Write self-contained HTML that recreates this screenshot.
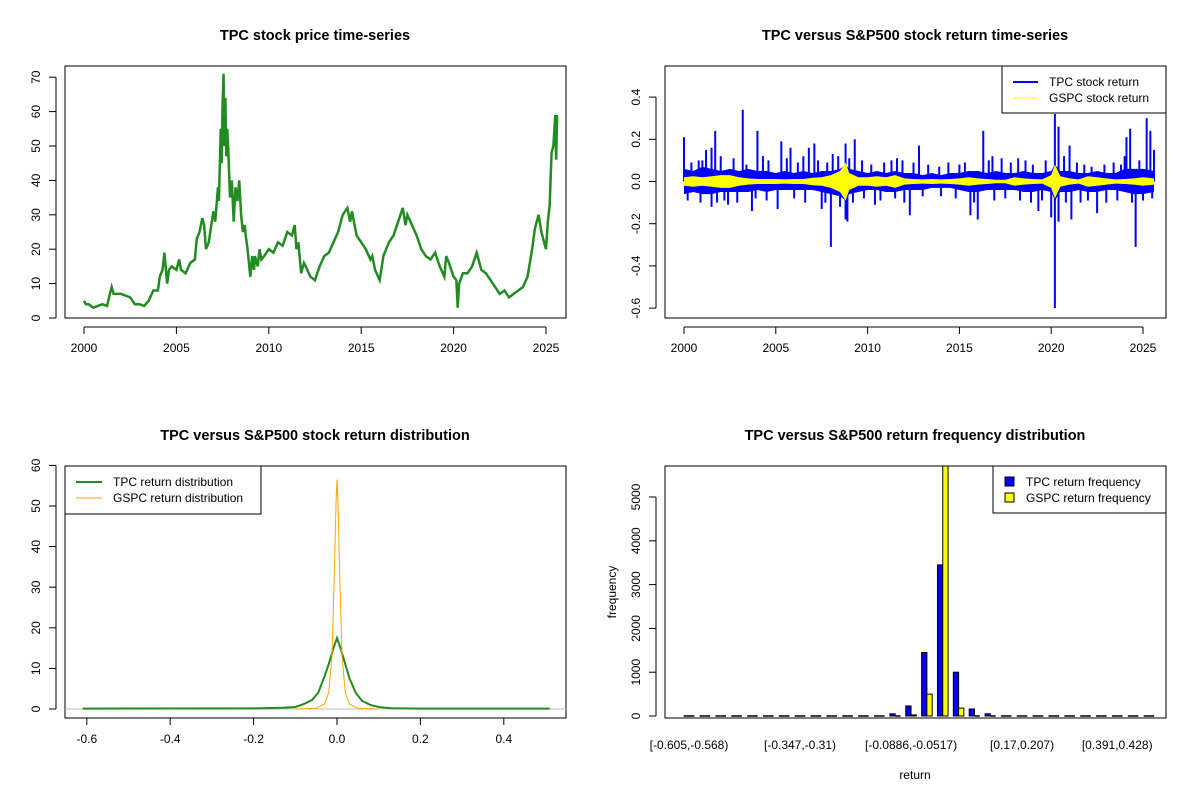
<!DOCTYPE html>
<html><head><meta charset="utf-8"><style>
html,body{margin:0;padding:0;background:#fff}
svg{display:block;font-family:"Liberation Sans",Arial,sans-serif}
.t{font-size:14.5px;font-weight:bold;text-anchor:middle}
.k{font-size:12px;fill:#000}
</style></head><body>
<svg id="c" width="1200" height="800" viewBox="0 0 1200 800"></svg>
<script>
// ---- Panel 1: price ----
const priceYears=[2000,2000.1,2000.25,2000.5,2000.75,2001,2001.25,2001.4,2001.5,2001.6,2001.75,2002,2002.25,2002.5,2002.75,2003,2003.25,2003.5,2003.75,2004,2004.1,2004.25,2004.35,2004.5,2004.6,2004.75,2005,2005.15,2005.25,2005.5,2005.75,2006,2006.1,2006.25,2006.4,2006.5,2006.6,2006.75,2007,2007.1,2007.25,2007.3,2007.4,2007.45,2007.5,2007.55,2007.6,2007.65,2007.7,2007.75,2007.8,2007.9,2008,2008.1,2008.2,2008.3,2008.4,2008.5,2008.6,2008.7,2008.75,2008.85,2009,2009.1,2009.2,2009.25,2009.4,2009.5,2009.6,2009.75,2010,2010.25,2010.5,2010.75,2011,2011.25,2011.4,2011.5,2011.6,2011.75,2011.9,2012,2012.25,2012.5,2012.75,2013,2013.25,2013.5,2013.75,2014,2014.25,2014.4,2014.5,2014.75,2015,2015.25,2015.5,2015.6,2015.75,2016,2016.2,2016.5,2016.75,2017,2017.25,2017.4,2017.5,2017.75,2018,2018.25,2018.5,2018.75,2019,2019.25,2019.5,2019.6,2019.75,2020,2020.15,2020.22,2020.3,2020.5,2020.75,2021,2021.25,2021.5,2021.75,2022,2022.25,2022.5,2022.75,2023,2023.25,2023.5,2023.75,2024,2024.25,2024.4,2024.5,2024.6,2024.75,2025,2025.1,2025.2,2025.3,2025.4,2025.5,2025.55,2025.6];
const priceVals=[5,4,4,3,3.5,4,3.5,7,9,7,7,7,6.5,6,4,4,3.5,5,8,8,12,14,19,10,14,15,14,17,14,13,16,17,23,25,29,27,20,22,31,28,38,34,55,45,62,71,50,64,47,55,50,35,40,28,38,34,40,30,25,27,24,20,12,18,14,18,15,20,17,18,20,19,22,21,25,24,27,20,22,13,16,15,12,11,15,18,19,22,25,30,32,28,31,24,22,20,17,18,14,11,18,22,24,28,32,27,30,27,24,20,18,17,19,15,12,18,16,12,11,3,10,13,13,15,19,14,13,11,9,7,8,6,7,8,9,12,20,26,28,30,25,20,28,33,48,50,59,46,59];
// ---- Panel 2: returns ----
const bandYears=[2000,2000.5,2001,2001.5,2002,2002.5,2003,2003.5,2004,2004.5,2005,2005.5,2006,2006.5,2007,2007.5,2008,2008.5,2008.8,2009,2009.5,2010,2010.5,2011,2011.5,2012,2012.5,2013,2013.5,2014,2014.5,2015,2015.5,2016,2016.5,2017,2017.5,2018,2018.5,2019,2019.5,2020,2020.2,2020.5,2021,2021.5,2022,2022.5,2023,2023.5,2024,2024.5,2025,2025.6];
const tpcUpper=[0.06,0.05,0.07,0.06,0.05,0.06,0.05,0.06,0.05,0.05,0.04,0.05,0.04,0.05,0.04,0.05,0.05,0.06,0.08,0.06,0.05,0.04,0.05,0.04,0.05,0.04,0.04,0.03,0.04,0.03,0.04,0.04,0.05,0.05,0.04,0.05,0.04,0.04,0.05,0.04,0.04,0.05,0.08,0.05,0.05,0.04,0.04,0.05,0.04,0.04,0.06,0.06,0.06,0.05];
const tpcLower=[-0.06,-0.05,-0.06,-0.06,-0.05,-0.05,-0.05,-0.05,-0.04,-0.05,-0.04,-0.04,-0.04,-0.04,-0.04,-0.05,-0.06,-0.07,-0.09,-0.06,-0.05,-0.04,-0.04,-0.05,-0.05,-0.04,-0.04,-0.04,-0.03,-0.03,-0.03,-0.04,-0.05,-0.05,-0.04,-0.04,-0.04,-0.04,-0.05,-0.05,-0.04,-0.05,-0.09,-0.05,-0.05,-0.04,-0.05,-0.05,-0.04,-0.04,-0.05,-0.06,-0.06,-0.05];
const gspcBand=[0.02,0.025,0.02,0.025,0.03,0.03,0.02,0.015,0.012,0.012,0.012,0.01,0.012,0.012,0.018,0.02,0.03,0.05,0.09,0.04,0.02,0.02,0.025,0.02,0.03,0.015,0.012,0.01,0.012,0.01,0.012,0.015,0.02,0.015,0.012,0.008,0.008,0.02,0.015,0.012,0.01,0.03,0.08,0.025,0.015,0.01,0.025,0.02,0.015,0.01,0.012,0.015,0.02,0.015];
const spikeYears=[2000.0,2001.2,2001.5,2001.7,2003.2,2004.0,2005.3,2005.8,2006.8,2007.1,2008.1,2008.8,2009.3,2011.6,2012.8,2016.3,2016.8,2018.2,2020.2,2020.4,2021.0,2024.1,2024.3,2025.2,2025.4,2025.6,2001.5,2002.4,2003.7,2005.1,2007.5,2008.0,2008.8,2008.9,2010.4,2012.3,2015.6,2016.0,2019.3,2020.0,2020.2,2020.4,2021.1,2022.5,2024.6,
2000.4,2000.8,2001.0,2002.0,2002.7,2003.4,2004.3,2004.6,2005.6,2006.2,2006.5,2007.3,2007.8,2008.4,2009.0,2009.7,2010.2,2010.9,2011.3,2011.9,2012.5,2013.3,2013.9,2014.4,2015.0,2015.3,2016.6,2017.3,2017.8,2018.6,2019.0,2019.7,2020.7,2021.4,2021.8,2022.2,2022.9,2023.4,2023.8,2024.0,2024.8,
2000.2,2000.9,2001.8,2002.2,2002.9,2003.9,2004.5,2006.0,2006.6,2007.7,2008.5,2009.2,2009.8,2010.7,2011.5,2012.0,2013.0,2014.0,2014.8,2015.8,2016.9,2017.5,2018.3,2018.9,2019.5,2020.8,2021.6,2022.0,2023.0,2023.6,2024.4,2025.0,2025.5];
const spikeVals=[0.21,0.15,0.16,0.24,0.34,0.24,0.19,0.16,0.16,0.18,0.13,0.18,0.2,0.11,0.17,0.24,0.12,0.11,0.32,0.26,0.17,0.21,0.25,0.3,0.24,0.15,-0.12,-0.11,-0.14,-0.13,-0.13,-0.31,-0.18,-0.19,-0.11,-0.16,-0.16,-0.18,-0.14,-0.17,-0.6,-0.19,-0.18,-0.15,-0.31,
0.09,0.1,0.1,0.12,0.11,0.08,0.12,0.1,0.11,0.09,0.12,0.1,0.09,0.12,0.11,0.1,0.08,0.09,0.1,0.1,0.09,0.08,0.07,0.09,0.08,0.09,0.1,0.11,0.09,0.1,0.08,0.1,0.12,0.09,0.08,0.07,0.08,0.09,0.08,0.12,0.1,
-0.09,-0.1,-0.1,-0.09,-0.1,-0.08,-0.09,-0.08,-0.1,-0.1,-0.12,-0.1,-0.08,-0.09,-0.08,-0.1,-0.07,-0.07,-0.08,-0.1,-0.09,-0.08,-0.09,-0.1,-0.09,-0.1,-0.1,-0.09,-0.1,-0.09,-0.1,-0.09,-0.08];
// ---- Panel 3: density ----
const densX=[-0.61,-0.2,-0.13,-0.1,-0.08,-0.06,-0.045,-0.03,-0.02,-0.01,0,0.01,0.02,0.03,0.045,0.06,0.08,0.1,0.13,0.2,0.51];
const tpcDens=[0.1,0.15,0.3,0.5,1.2,2.2,4,8,11,14.5,17.5,14.5,11,7.5,4,2,1,0.5,0.2,0.1,0.1];
const gspcX=[-0.1,-0.05,-0.03,-0.02,-0.012,-0.006,-0.002,0,0.002,0.006,0.012,0.02,0.03,0.05,0.1];
const gspcDens=[0,0.2,1.2,4,13,35,52,56.5,52,35,13,4,1.2,0.2,0];
// ---- Panel 4: histogram ----
const binLabels=["[-0.605,-0.568)","[-0.347,-0.31)","[-0.0886,-0.0517)","[0.17,0.207)","[0.391,0.428)"];
const labelBins=[0,7,14,21,27];
const tpcCounts=[1,0,0,0,0,0,0,2,0,0,5,15,20,50,230,1450,3450,1000,160,50,20,15,15,3,2,0,0,0,0,1];
const gspcCounts=[0,0,0,0,0,0,0,0,0,0,0,0,2,5,25,500,5900,180,20,3,0,0,0,0,0,0,0,0,0,0];

const S=document.getElementById('c');const NS='http://www.w3.org/2000/svg';
function mk(t,a,p,txt){const e=document.createElementNS(NS,t);for(const k in a)e.setAttribute(k,a[k]);if(txt!==undefined)e.textContent=txt;(p||S).appendChild(e);return e;}
function box(x0,y0,x1,y1,name){const r=mk('rect',{x:x0,y:y0,width:x1-x0,height:y1-y0,fill:'none',stroke:'#000','stroke-width':1});

}
function title(x,y,s,name){const e=mk('text',{x:x,y:y,class:'t'},S,s);

}
function xtick(x,yb,lab){mk('line',{x1:x,x2:x,y1:yb,y2:yb+7,stroke:'#000'});const e=mk('text',{x:x,y:yb+25,class:'k','text-anchor':'middle'},S,lab);

}
function ytick(y,xl,lab){mk('line',{x1:xl,x2:xl-7,y1:y,y2:y,stroke:'#000'});const e=mk('text',{x:xl-16,y:y,class:'k','text-anchor':'middle',transform:`rotate(-90 ${xl-16} ${y})`},S,lab);

}
function axisLine(x1,y1,x2,y2){mk('line',{x1,y1,x2,y2,stroke:'#000'});}

// Panel 1
{const X=y=>84+(y-2000)*18.48, Y=v=>318-v*3.44;
box(65,66,566,318,'price-plot-area');title(315,40,'TPC stock price time-series','price-chart-title');
axisLine(X(2000),327,X(2025),327);
[2000,2005,2010,2015,2020,2025].forEach(y=>xtick(X(y),327,String(y)));
axisLine(56,Y(0),56,Y(70));[0,10,20,30,40,50,60,70].forEach(v=>ytick(Y(v),56,String(v)));
const p=mk('polyline',{points:priceYears.map((y,i)=>X(y)+','+Y(priceVals[i])).join(' '),fill:'none',stroke:'#228b22','stroke-width':2.5});

}

// Panel 2
{const X=y=>684+(y-2000)*18.36, Y=v=>181.5-v*211;
box(665,66,1166,318,'return-plot-area');title(915,40,'TPC versus S&P500 stock return time-series','return-chart-title');
axisLine(X(2000),327,X(2025),327);
[2000,2005,2010,2015,2020,2025].forEach(y=>xtick(X(y),327,String(y)));
axisLine(656,Y(0.4),656,Y(-0.6));[0.4,0.2,0,-0.2,-0.4,-0.6].forEach(v=>ytick(Y(v),656,v.toFixed(1)));
const up=bandYears.map((y,i)=>X(y)+','+Y(tpcUpper[i])),lo=bandYears.map((y,i)=>X(y)+','+Y(tpcLower[i])).reverse();
const b=mk('polygon',{points:up.concat(lo).join(' '),fill:'#0000ff'});


spikeYears.forEach((y,i)=>{const l=mk('line',{x1:X(y),x2:X(y),y1:Y(0),y2:Y(spikeVals[i]),stroke:'#0000ff','stroke-width':2});

});
const gu=bandYears.map((y,i)=>X(y)+','+Y(gspcBand[i])),gl=bandYears.map((y,i)=>X(y)+','+Y(-gspcBand[i])).reverse();
const g=mk('polygon',{points:gu.concat(gl).join(' '),fill:'#ffff00'});


const lg=mk('g',{});


mk('rect',{x:1002,y:66,width:164,height:47,fill:'#fff',stroke:'#000'},lg);
mk('line',{x1:1013,x2:1038,y1:82,y2:82,stroke:'#0000ff','stroke-width':2},lg);
mk('line',{x1:1013,x2:1038,y1:98,y2:98,stroke:'#ffff00','stroke-width':1},lg);
mk('text',{x:1049,y:86,class:'k'},lg,'TPC stock return');
mk('text',{x:1049,y:102,class:'k'},lg,'GSPC stock return');}

// Panel 3
{const X=v=>337+v*417, Y=v=>709-v*4.06;
box(65,466,566,718,'density-plot-area');title(315,440,'TPC versus S&P500 stock return distribution','density-chart-title');
axisLine(X(-0.6),718,X(0.4),718);
[-0.6,-0.4,-0.2,0,0.2,0.4].forEach(v=>xtick(X(v),718,v.toFixed(1)));
axisLine(56,Y(0),56,Y(60));[0,10,20,30,40,50,60].forEach(v=>ytick(Y(v),56,String(v)));
mk('line',{x1:65,x2:566,y1:Y(0),y2:Y(0),stroke:'#bebebe'});
const t=mk('polyline',{points:densX.map((x,i)=>X(x)+','+Y(tpcDens[i])).join(' '),fill:'none',stroke:'#228b22','stroke-width':2});


const g=mk('polyline',{points:gspcX.map((x,i)=>X(x)+','+Y(gspcDens[i])).join(' '),fill:'none',stroke:'#ffa500','stroke-width':1});


const lg=mk('g',{});


mk('rect',{x:65,y:466,width:196,height:48,fill:'#fff',stroke:'#000'},lg);
mk('line',{x1:76,x2:102,y1:482,y2:482,stroke:'#228b22','stroke-width':2},lg);
mk('line',{x1:76,x2:102,y1:498,y2:498,stroke:'#ffa500','stroke-width':1},lg);
mk('text',{x:113,y:486,class:'k'},lg,'TPC return distribution');
mk('text',{x:113,y:502,class:'k'},lg,'GSPC return distribution');}

// Panel 4
{const gw=15.86,C=i=>689+i*gw,w=gw/3,Y=v=>716-v*0.0438;
const clip=mk('clipPath',{id:'hc'});mk('rect',{x:665,y:466,width:501,height:252},clip);
const bars=mk('g',{'clip-path':'url(#hc)'});
function bar(x,v,col,name){
 if(716-Y(v)<1){const l=mk('line',{x1:x,x2:x+w,y1:716,y2:716,stroke:'#000','stroke-width':1.5},bars);
 
 return;}
 const r=mk('rect',{x:x,y:Y(v),width:w,height:716-Y(v),fill:col,stroke:'#000','stroke-width':1},bars);
 
 }
tpcCounts.forEach((v,i)=>bar(C(i)-w,v,'#0000ff','tpc-frequency-bar'));
gspcCounts.forEach((v,i)=>bar(C(i),v,'#ffff00','gspc-frequency-bar'));
box(665,466,1166,718,'histogram-plot-area');title(915,440,'TPC versus S&P500 return frequency distribution','histogram-chart-title');
axisLine(656,Y(0),656,Y(5000));[0,1000,2000,3000,4000,5000].forEach(v=>ytick(Y(v),656,String(v)));
labelBins.forEach((b,i)=>{const e=mk('text',{x:C(b),y:749,class:'k','text-anchor':'middle'},S,binLabels[i]);

});
const xl=mk('text',{x:915,y:779,class:'k','text-anchor':'middle'},S,'return');


const yl=mk('text',{x:616,y:592,class:'k','text-anchor':'middle',transform:'rotate(-90 616 592)'},S,'frequency');


const lg=mk('g',{});


mk('rect',{x:993,y:466,width:173,height:47,fill:'#fff',stroke:'#000'},lg);
mk('rect',{x:1005,y:477,width:9,height:9,fill:'#0000ff',stroke:'#000'},lg);
mk('rect',{x:1005,y:493,width:9,height:9,fill:'#ffff00',stroke:'#000'},lg);
mk('text',{x:1026,y:486,class:'k'},lg,'TPC return frequency');
mk('text',{x:1026,y:502,class:'k'},lg,'GSPC return frequency');}
</script>
</body></html>
